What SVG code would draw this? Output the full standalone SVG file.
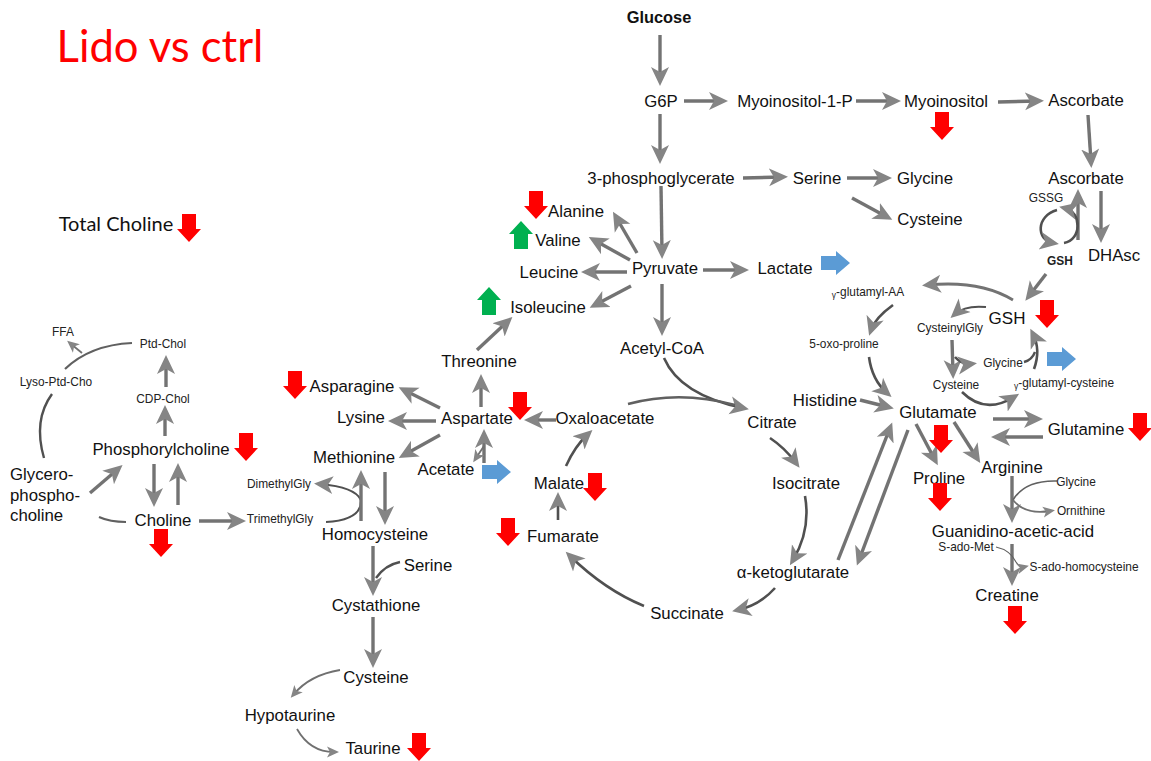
<svg xmlns="http://www.w3.org/2000/svg" xmlns:xlink="http://www.w3.org/1999/xlink" width="1151" height="761" viewBox="0 0 1151 761">
<style>
text{font-family:"Liberation Sans",Arial,sans-serif;font-size:16.8px;fill:#111;text-anchor:middle}
text:not(.s):not(.cal){transform:translateY(1px)}
.s{font-size:11.9px;fill:#222}
.xs{font-size:8.5px}
.l{text-anchor:start}
.b{font-weight:bold}
.cal{font-family:Lato,"Liberation Sans",sans-serif}
#connectors path{fill:none;stroke-linecap:butt}
.e{stroke:#737373;stroke-width:3.4;marker-end:url(#h)}
.c{stroke:#505050;stroke-width:2.6;marker-end:url(#h)}
.t{stroke:#707070;stroke-width:1.8;marker-end:url(#m)}
.n{stroke:#606060;stroke-width:1.6}
.p{stroke:#505050;stroke-width:2.4}
</style>
<defs>
<marker id="h" markerUnits="userSpaceOnUse" markerWidth="22" markerHeight="20" refX="13" refY="9.5" orient="auto" viewBox="0 0 22 19"><path d="M0,0.5 L19,9.5 L0,18.5 L5,9.5Z" fill="#858585"/></marker>
<marker id="m" markerUnits="userSpaceOnUse" markerWidth="14" markerHeight="14" refX="7" refY="6" orient="auto" viewBox="0 0 14 12"><path d="M0,0.5 L12,6 L0,11.5 L3,6Z" fill="#858585"/></marker>
<path id="down" d="M-7,0H7V15H12L0,28L-12,15H-7Z" fill="#ff0000"/>
<path id="up" d="M-7,28H7V13H12L0,0L-12,13H-7Z" fill="#00b050"/>
<path id="right" d="M0,-7H15V-12L29,0L15,12V7H0Z" fill="#5b9bd5"/>
</defs>
<g id="connectors">
<path class="e" d="M660,35V80"/>
<path class="e" d="M684,101H722"/>
<path class="e" d="M856,101H895"/>
<path class="e" d="M998,102L1038,101"/>
<path class="e" d="M1088,115L1091,162"/>
<path class="e" d="M660,114V158"/>
<path class="e" d="M743,178L782,177"/>
<path class="e" d="M847,178H886"/>
<path class="e" d="M852,198L887,217"/>
<path class="e" d="M661,186L662,253"/>
<path class="e" d="M637,253L616,217"/>
<path class="e" d="M630,260L594,240"/>
<path class="e" d="M627,272H587"/>
<path class="e" d="M631,286L595,305"/>
<path class="e" d="M703,270H743"/>
<path class="e" d="M662,284V330"/>
<path class="e" d="M477,350L508,321"/>
<path class="e" d="M481,407V380"/>
<path class="e" d="M440,408L404,390"/>
<path class="e" d="M436,421H394"/>
<path class="e" d="M440,435L404,455"/>
<path class="e" d="M484,463V435"/>
<path class="t" d="M484,446L476,458"/>
<path class="e" d="M556,420H530"/>
<path class="c" d="M566,466Q575,446 588,434"/>
<path class="c" d="M558,520V498"/>
<path class="c" d="M644,606Q605,590 570,556"/>
<path class="c" d="M775,588Q760,605 738,610"/>
<path class="c" d="M664,358Q680,395 743,408"/>
<path class="n" d="M628,404Q680,390 735,405" style="stroke-width:2.6"/>
<path class="c" d="M770,438Q785,448 796,463"/>
<path class="c" d="M805,496Q811,530 793,560"/>
<path class="e" d="M838,560L890,428"/>
<path class="e" d="M908,430L859,560"/>
<path class="e" d="M860,400L888,407"/>
<path class="c" d="M869,357Q872,380 887,393"/>
<path class="c" d="M893,305Q875,318 871,330"/>
<path class="e" d="M1013,300Q980,280 928,285" style="stroke-width:2.8"/>
<path class="e" d="M1046,274L1029,296"/>
<path class="c" d="M986,307Q965,305 955,314" style="stroke-width:2"/>
<path class="e" d="M952,340L953,373"/>
<path class="c" d="M955,357Q962,365 971,364"/>
<path class="p" d="M1024,362Q1032,360 1035,352"/>
<path class="c" d="M1034,369Q1041,350 1033,334"/>
<path class="c" d="M962,392Q985,415 1014,397"/>
<path class="e" d="M993,419H1037"/>
<path class="e" d="M1043,437H997"/>
<path class="e" d="M916,424L935,460"/>
<path class="e" d="M954,422L977,458"/>
<path class="e" d="M1012,476V517"/>
<path class="n" d="M1057,481Q1025,480 1013,500"/>
<path class="t" d="M1013,500Q1025,515 1050,511"/>
<path class="e" d="M1012,544V580"/>
<path class="n" d="M996,547Q1010,550 1016,562Q1020,568 1024,567" style="stroke-width:1.2;marker-end:url(#m)"/>
<path class="e" d="M1078,240V195"/>
<path class="c" d="M1057,210C1036,216 1036,240 1053,243"/>
<path class="c" d="M1064,243C1082,240 1082,212 1065,208"/>
<path class="e" d="M1101,191V237"/>
<path class="p" d="M44,458Q33,420 52,394"/>
<path class="n" d="M65,369Q90,345 132,343" style="stroke-width:2.2"/>
<path class="t" d="M82,353L71,344"/>
<path class="e" d="M166,387V361"/>
<path class="e" d="M165,436V411"/>
<path class="e" d="M154,464V501"/>
<path class="e" d="M178,505V469"/>
<path class="e" d="M90,493L118,469"/>
<path class="n" d="M99,517Q110,522 126,522" style="stroke-width:2.2"/>
<path class="e" d="M199,521H240"/>
<path class="c" d="M326,522Q362,520 361,500Q355,487 320,484" style="stroke-width:2"/>
<path class="e" d="M361,521V476"/>
<path class="e" d="M385,472V519"/>
<path class="e" d="M373,546V590"/>
<path class="p" d="M400,562Q385,565 376,578"/>
<path class="e" d="M373,617V662"/>
<path class="t" d="M340,670Q310,675 294,694"/>
<path class="t" d="M297,729Q310,752 334,752"/>
</g>
<g id="title"><text class="cal" x="160" y="62" style="font-size:43.6px;fill:#ff0000">Lido vs ctrl</text></g>
<g id="total-choline"><text class="cal" x="116" y="231" style="font-size:20px">Total Choline</text><use href="#down" x="189" y="214"/></g>
<g id="glucose"><text class="b" x="659" y="22" style="font-size:16.4px">Glucose</text></g>
<g id="g6p"><text x="661" y="106">G6P</text></g>
<g id="myoinositol-1-p"><text x="795" y="106">Myoinositol-1-P</text></g>
<g id="myoinositol"><text x="946" y="106">Myoinositol</text><use href="#down" x="942" y="112"/></g>
<g id="ascorbate-1"><text x="1086" y="105">Ascorbate</text></g>
<g id="ascorbate-2"><text x="1086" y="183">Ascorbate</text></g>
<g id="phosphoglycerate"><text x="661" y="183">3-phosphoglycerate</text></g>
<g id="serine-1"><text x="817" y="183">Serine</text></g>
<g id="glycine-1"><text x="925" y="183">Glycine</text></g>
<g id="cysteine-1"><text x="930" y="224">Cysteine</text></g>
<g id="gssg"><text class="s" x="1046" y="202">GSSG</text></g>
<g id="gsh-bold"><text class="s b" x="1060" y="265">GSH</text></g>
<g id="dhasc"><text x="1114" y="260">DHAsc</text></g>
<g id="alanine"><text x="576" y="216">Alanine</text><use href="#down" x="536" y="191"/></g>
<g id="valine"><text x="558" y="245">Valine</text><use href="#up" x="521" y="221"/></g>
<g id="leucine"><text x="549" y="277">Leucine</text></g>
<g id="pyruvate"><text x="665" y="273">Pyruvate</text></g>
<g id="lactate"><text x="785" y="273">Lactate</text><use href="#right" x="821" y="263"/></g>
<g id="isoleucine"><text x="548" y="312">Isoleucine</text><use href="#up" x="489" y="287"/></g>
<g id="threonine"><text x="479" y="366">Threonine</text></g>
<g id="acetyl-coa"><text x="662" y="353">Acetyl-CoA</text></g>
<g id="aspartate"><text x="477" y="423">Aspartate</text><use href="#down" x="520" y="392"/></g>
<g id="oxaloacetate"><text x="605" y="423">Oxaloacetate</text></g>
<g id="citrate"><text x="772" y="427">Citrate</text></g>
<g id="asparagine"><text x="352" y="391">Asparagine</text><use href="#down" x="295" y="371"/></g>
<g id="lysine"><text x="361" y="422">Lysine</text></g>
<g id="methionine"><text x="354" y="462">Methionine</text></g>
<g id="acetate"><text x="446" y="474">Acetate</text><use href="#right" x="482" y="472"/></g>
<g id="malate"><text x="559" y="488">Malate</text><use href="#down" x="595" y="473"/></g>
<g id="fumarate"><text x="563" y="541">Fumarate</text><use href="#down" x="508" y="518"/></g>
<g id="isocitrate"><text x="806" y="488">Isocitrate</text></g>
<g id="alpha-ketoglutarate"><text x="793" y="577">α-ketoglutarate</text></g>
<g id="succinate"><text x="687" y="618">Succinate</text></g>
<g id="homocysteine"><text x="375" y="539">Homocysteine</text></g>
<g id="serine-2"><text x="428" y="570">Serine</text></g>
<g id="cystathione"><text x="376" y="610">Cystathione</text></g>
<g id="cysteine-2"><text x="376" y="682">Cysteine</text></g>
<g id="hypotaurine"><text x="290" y="720">Hypotaurine</text></g>
<g id="taurine"><text x="373" y="753">Taurine</text><use href="#down" x="419" y="733"/></g>
<g id="ffa"><text class="s" x="63" y="336">FFA</text></g>
<g id="ptd-chol"><text class="s" x="163" y="348">Ptd-Chol</text></g>
<g id="lyso-ptd-cho"><text class="s" x="56" y="386">Lyso-Ptd-Cho</text></g>
<g id="cdp-chol"><text class="s" x="163" y="403">CDP-Chol</text></g>
<g id="phosphorylcholine"><text x="161" y="454">Phosphorylcholine</text><use href="#down" x="246" y="433"/></g>
<g id="glycerophosphocholine"><text class="l" x="10" y="479">Glycero-</text><text class="l" x="10" y="500">phospho-</text><text class="l" x="10" y="520">choline</text></g>
<g id="choline"><text x="163" y="525">Choline</text><use href="#down" x="161" y="529"/></g>
<g id="dimethylgly"><text class="s" x="279" y="488">DimethylGly</text></g>
<g id="trimethylgly"><text class="s" x="280" y="523">TrimethylGly</text></g>
<g id="glutamyl-aa"><text class="s" x="868" y="296"><tspan class="xs" dy="2">γ</tspan><tspan dy="-2">-glutamyl-AA</tspan></text></g>
<g id="oxo-proline"><text class="s" x="844" y="348">5-oxo-proline</text></g>
<g id="cysteinylgly"><text class="s" x="950" y="332">CysteinylGly</text></g>
<g id="gsh"><text x="1007" y="323" style="font-size:17px">GSH</text><use href="#down" x="1047" y="300"/></g>
<g id="cysteine-3"><text class="s" x="956" y="389">Cysteine</text></g>
<g id="glycine-2"><text class="s" x="1003" y="367">Glycine</text><use href="#right" x="1047" y="359"/></g>
<g id="glutamyl-cysteine"><text class="s" x="1064" y="387"><tspan class="xs" dy="2">γ</tspan><tspan dy="-2">-glutamyl-cysteine</tspan></text></g>
<g id="histidine"><text x="825" y="405">Histidine</text></g>
<g id="glutamate"><text x="938" y="417">Glutamate</text><use href="#down" x="941" y="425"/></g>
<g id="glutamine"><text x="1086" y="434">Glutamine</text><use href="#down" x="1140" y="413"/></g>
<g id="arginine"><text x="1012" y="472">Arginine</text></g>
<g id="proline"><text x="939" y="483">Proline</text><use href="#down" x="940" y="483"/></g>
<g id="glycine-3"><text class="s" x="1076" y="486">Glycine</text></g>
<g id="ornithine"><text class="s" x="1081" y="515">Ornithine</text></g>
<g id="guanidino-acetic-acid"><text x="1013" y="536">Guanidino-acetic-acid</text></g>
<g id="s-ado-met"><text class="s" x="966" y="551">S-ado-Met</text></g>
<g id="s-ado-homocysteine"><text class="s" x="1084" y="571">S-ado-homocysteine</text></g>
<g id="creatine"><text x="1007" y="600">Creatine</text><use href="#down" x="1015" y="606"/></g>
</svg>
